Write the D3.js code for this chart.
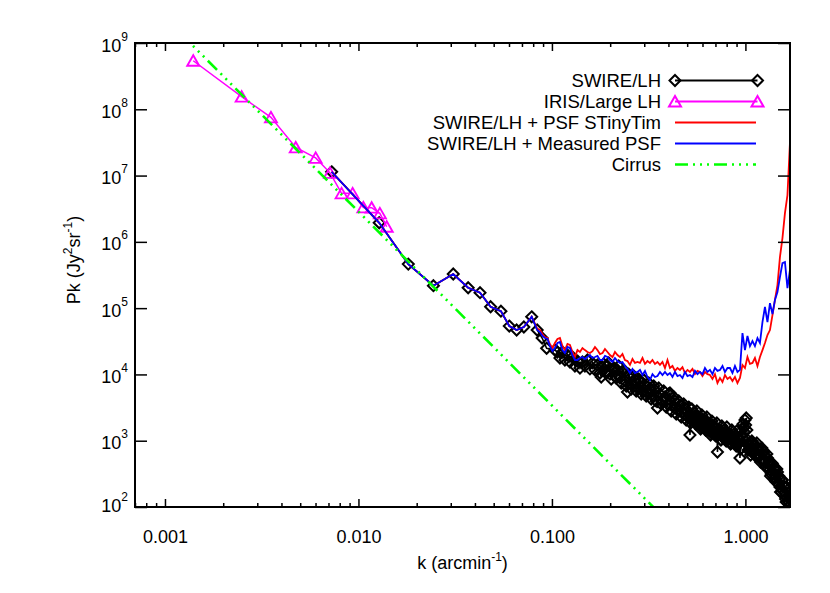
<!DOCTYPE html>
<html><head><meta charset="utf-8">
<script src="https://cdn.jsdelivr.net/npm/d3@7"></script>
<style>body{margin:0;background:#fff}</style>
</head><body><svg id="c" width="830" height="593"></svg>
<script>
// ---------------- data ----------------
// SWIRE/LH power spectrum (k in arcmin^-1, P in Jy^2/sr); dense part read in two passes, sorted by k when drawn
const swireK = [0.00727,0.0128,0.0181,0.0244,0.0309,0.0369,0.0425,0.0482,0.0545,0.0602,0.0657,0.0716,0.0786,0.0839,0.089,0.0939,0.1036,
0.1068,0.110,0.1133,0.1167,0.1203,0.1239,0.1277,0.1315,0.1355,0.1396,0.1438,0.1481,0.1526,0.1572,0.1620,0.1669,0.1719,0.1771,0.1825,0.1880,
0.1937,0.1995,0.2056,0.2117,0.2181,0.2247,0.2315,0.2385,0.2457,0.2531,0.2608,0.2686,0.2768,0.2851,0.2938,0.3026,0.3118,0.3211,0.3309,0.3408,
0.3511,0.3617,0.3727,0.3839,0.3955,0.4074,0.4198,0.4324,0.4455,0.4589,0.4728,0.4870,0.5018,
0.5169,0.5246,0.5326,0.5406,0.5486,0.5568,0.5652,0.5737,0.5822,0.5909,0.5998,0.6088,0.6179,0.6272,0.6366,0.6461,
0.6558,0.6656,0.6757,0.6858,0.6960,0.7064,0.7171,0.7278,0.7387,0.7498,0.7611,0.7725,0.7839,0.7957,0.8077,0.8198,
0.8320,0.8445,0.8572,0.8700,0.8830,0.8963,0.9097,0.9233,0.9371,0.9512,0.9655,0.9800,0.9946,1.0096,1.0247,1.0400,
1.0555,1.0714,1.0875,1.1038,1.1202,1.1370,1.1541,1.1714,1.1889,1.2067,1.2249,1.2432,1.2618,1.2807,1.3000,1.3195,
1.3391,1.3592,1.3797,1.4003,1.4212,1.4425,1.4642,1.4862,1.5083,1.5310,1.5540,1.5773,1.6008,1.6248,1.6493,1.6740,1.6989,
0.1798,0.1852,0.1908,0.1966,0.2025,0.2087,0.2149,0.2214,0.2281,0.2350,0.2421,0.2494,0.2569,0.2647,0.2726,0.2810,0.2894,0.2982,
0.3071,0.3165,0.3259,0.3359,0.3459,0.3564,0.3671,0.3783,0.3897,0.4014,0.4135,0.4261,0.4389,0.4522,0.4658,0.4799,0.4943,0.5093,
0.5208,0.5285,0.5366,0.5447,0.5527,0.5610,0.5694,0.5780,0.5866,0.5953,0.6043,0.6134,0.6225,0.6319,0.6414,0.6509,
0.6607,0.6706,0.6808,0.6909,0.7012,0.7117,0.7225,0.7333,0.7442,0.7554,0.7668,0.7783,0.7898,0.8017,0.8138,0.8259,
0.8382,0.8508,0.8636,0.8765,0.8896,0.9030,0.9165,0.9302,0.9441,0.9583,0.9727,0.9874,1.0021,1.0172,1.0324,1.0478,
1.0634,1.0794,1.0957,1.1121,1.1286,1.1455,1.1628,1.1802,1.1978,1.2157,1.2341,1.2525,1.2713,1.2903,1.3097,1.3294,
1.3491,1.3694,1.3900,1.4108,1.4319,1.4533,1.4752,1.4973,1.5196,1.5425,1.5657,1.5891,1.6128,1.6370,1.6617,1.6866];
const swireP = [1.14e7,1.94e6,4.62e5,2.18e5,3.27e5,2.03e5,1.71e5,1.05e5,9.0e4,5.37e4,4.68e4,5.2e4,7.4e4,4.68e4,3.54e4,2.48e4,2.33e4,
2.18e4,1.77e4,2.18e4,1.65e4,1.96e4,1.54e4,1.83e4,1.34e4,1.59e4,1.25e4,1.54e4,1.34e4,1.65e4,1.21e4,1.49e4,1.17e4,1.39e4,1.05e4,1.29e4,1.09e4,
1.34e4,1.01e4,1.21e4,9.46e3,1.17e4,8.83e3,1.09e4,7.95e3,5.43e3,8.83e3,6.92e3,8.23e3,6.24e3,7.68e3,5.62e3,6.92e3,5.24e3,6.24e3,4.72e3,5.82e3,
3.11e3,5.07e3,3.97e3,4.56e3,3.58e3,5.24e3,3.34e3,3.97e3,2.90e3,3.46e3,2.62e3,3.11e3,2.28e3,
1.22e3,2.13e3,2.53e3,2.28e3,1.98e3,1.79e3,2.36e3,2.05e3,1.79e3,1.61e3,2.13e3,1.92e3,1.61e3,1.45e3,1.92e3,1.73e3,
1.45e3,1.31e3,1.73e3,1.56e3,1.31e3,1.18e3,675,1.40e3,1.45e3,1.03e3,1.14e3,1.26e3,1.35e3,990,1.06e3,1.18e3,
1.26e3,924,990,1.10e3,1.18e3,832,892,1.03e3,548,776,1.10e3,1.56e3,2.05e3,2.20e3,1.03e3,892,
832,699,924,832,675,588,803,724,588,512,724,675,477,415,548,477,
361,315,445,388,274,238,337,293,200,168,255,207,147,119,180,84,107,
9.14e3,1.44e4,1.05e4,1.49e4,8.53e3,1.25e4,8.83e3,1.34e4,7.42e3,1.17e4,6.69e3,1.01e4,6.03e3,9.46e3,5.62e3,8.53e3,5.07e3,8.23e3,
4.72e3,7.42e3,4.26e3,6.69e3,3.97e3,6.24e3,3.58e3,5.62e3,3.22e3,5.07e3,2.81e3,4.56e3,2.53e3,3.97e3,2.28e3,3.58e3,2.05e3,3.22e3,
1.85e3,3.01e3,2.13e3,2.62e3,1.79e3,2.81e3,1.79e3,2.13e3,1.50e3,2.44e3,1.73e3,2.05e3,1.45e3,2.28e3,1.45e3,1.73e3,
1.22e3,1.98e3,1.40e3,1.67e3,1.18e3,1.85e3,1.22e3,1.45e3,1.03e3,1.67e3,1.22e3,1.45e3,1.03e3,1.61e3,1.06e3,1.26e3,
892,1.45e3,1.06e3,1.26e3,892,1.40e3,892,1.06e3,750,1.22e3,1.79e3,1.35e3,1.73e3,1.45e3,724,861,
608,990,699,832,588,924,588,699,477,776,530,608,401,630,388,445,
293,461,326,374,247,374,230,264,168,255,174,200,132,200,123,142];

const irisK = [0.0014,0.00249,0.00353,0.00474,0.00601,0.00713,0.00818,0.00933,0.0106,0.0117,0.0129,0.0140];
const irisP = [5.4e8,1.55e8,7.55e7,2.66e7,1.85e7,1.10e7,5.39e6,5.39e6,3.31e6,3.28e6,2.69e6,1.69e6];

const psfK = [0.00727,0.0128,0.0181,0.0244,0.0309,0.0369,0.0425,0.0482,0.0545,0.0602,0.0657,0.0716,0.0786,0.0839,
0.0867,0.0893,0.0920,0.0948,0.0976,0.1006,0.1036,0.1068,0.1100,0.1133,
0.1167,0.1203,0.1239,0.1277,0.1315,0.1355,0.1396,0.1438,0.1481,0.1526,0.1572,0.1620,0.1669,0.1719,0.1771,0.1825,0.1880,0.1937,0.1995,0.2056,
0.2117,0.2181,0.2247,0.2315,0.2385,0.2457,0.2531,0.2608,0.2686,0.2768,0.2851,0.2938,0.3026,0.3118,0.3211,0.3309,0.3408,0.3511,0.3617,0.3727,
0.3839,0.3955,0.4074,0.4198,0.4324,0.4455,0.4589,0.4728,0.4870,0.5018,
0.5169,0.5326,0.5486,0.5652,0.5822,0.5998,0.6179,0.6366,0.6558,0.6757,0.6960,0.7171,0.7387,0.7611,0.7839,0.8077,0.8320,0.8572,0.8830,0.9097,
0.9371,0.9655,0.9946,1.0247,1.0555,1.0875,1.1202,1.1541,1.1889,1.2249,1.2618,1.3000,1.3391,1.3797,1.4212,1.4642,1.5083,1.5540,1.6008,1.6493,1.6989];
const stinyTimP = [1.14e7,1.94e6,4.62e5,2.18e5,3.27e5,2.03e5,1.71e5,1.05e5,9.0e4,5.37e4,4.68e4,5.2e4,7.4e4,4.9e4,
4.67e4,4.07e4,3.67e4,3.54e4,2.88e4,2.50e4,2.98e4,3.42e4,3.54e4,2.68e4,
2.33e4,2.88e4,2.78e4,2.18e4,1.83e4,2.33e4,2.18e4,2.50e4,2.33e4,2.18e4,
2.10e4,2.25e4,2.59e4,2.33e4,2.03e4,2.10e4,2.42e4,2.18e4,1.96e4,1.83e4,
2.18e4,1.96e4,1.83e4,2.03e4,1.65e4,1.59e4,1.39e4,1.71e4,1.49e4,1.54e4,
1.49e4,1.77e4,1.44e4,1.59e4,1.49e4,1.65e4,1.44e4,1.54e4,1.39e4,1.54e4,
1.25e4,1.65e4,1.25e4,1.34e4,1.13e4,1.25e4,1.17e4,1.29e4,1.05e4,1.17e4,
1.09e4,1.21e4,1.01e4,1.13e4,1.09e4,9.46e3,1.09e4,1.01e4,9.80e3,8.53e3,
1.01e4,7.42e3,8.83e3,7.68e3,9.80e3,8.53e3,9.14e3,7.95e3,9.14e3,7.42e3,
8.83e3,1.39e4,1.25e4,1.83e4,1.44e4,1.49e4,1.77e4,1.34e4,1.83e4,2.33e4,
2.98e4,3.93e4,4.67e4,7.87e4,1.33e5,2.23e5,5.90e5,1.14e6,2.72e6,5.08e6,3.09e7];
const measuredP = [1.14e7,1.94e6,4.62e5,2.18e5,3.27e5,2.03e5,1.71e5,1.05e5,9.0e4,5.37e4,4.68e4,5.2e4,7.4e4,4.68e4,
4.36e4,3.80e4,3.54e4,3.42e4,2.68e4,2.25e4,2.50e4,2.98e4,3.08e4,2.33e4,
2.10e4,2.59e4,2.50e4,1.96e4,1.65e4,1.65e4,1.77e4,1.83e4,1.71e4,1.83e4,
1.96e4,1.77e4,1.83e4,1.90e4,1.65e4,1.65e4,1.90e4,1.83e4,1.65e4,1.54e4,
1.77e4,1.59e4,1.49e4,1.54e4,1.34e4,1.21e4,1.05e4,1.21e4,1.05e4,1.09e4,
1.17e4,9.80e3,1.13e4,9.14e3,8.23e3,1.01e4,9.14e3,9.46e3,1.09e4,9.80e3,
1.09e4,9.80e3,1.05e4,9.14e3,1.09e4,9.46e3,9.80e3,8.83e3,1.09e4,9.46e3,
9.80e3,9.14e3,1.13e4,1.01e4,1.09e4,1.01e4,1.25e4,1.09e4,1.17e4,1.01e4,
1.25e4,1.13e4,1.17e4,1.34e4,1.09e4,1.25e4,1.25e4,1.05e4,1.34e4,1.09e4,
1.17e4,4.21e4,2.33e4,3.80e4,2.68e4,3.19e4,2.68e4,3.54e4,2.98e4,6.17e4,
1.04e5,6.17e4,1.19e5,8.15e4,1.33e5,1.75e5,2.95e5,4.79e5,4.96e5,2.01e5,3.76e5];

const cirrusK = [0.0012,0.01,0.1,0.35];
const cirrusP = [1.41e9,2.86e6,3.40e3,87];

const xMajorTicks = [0.001,0.01,0.1,1];
const xTickLabels = ["0.001","0.010","0.100","1.000"];
const yTickValues = [1e2,1e3,1e4,1e5,1e6,1e7,1e8,1e9];
const yTickExps = ["2","3","4","5","6","7","8","9"];
const legendLabels = ["SWIRE/LH","IRIS/Large LH","SWIRE/LH + PSF STinyTim","SWIRE/LH + Measured PSF","Cirrus"];

// ---------------- layout ----------------
const FONT = '"Liberation Sans", Arial, Helvetica, sans-serif';
const L=135, R=790, T=43, B=507;
const svg = d3.select("#c");
svg.append("rect").attr("width",830).attr("height",593).attr("fill","#fff");
const x = d3.scaleLog().domain([0.0007,1.7]).range([L,R]);
const y = d3.scaleLog().domain([1e2,1e9]).range([B,T]);

svg.append("defs").append("clipPath").attr("id","clip")
  .append("rect").attr("x",L).attr("y",T).attr("width",R-L).attr("height",B-T);
const plot = svg.append("g").attr("clip-path","url(#clip)");
const zip = (ks,ps)=>ks.map((k,i)=>[k,ps[i]]);
const line = d3.line().x(d=>x(d[0])).y(d=>y(d[1]));
const DIA = "M0,-5.5L5.5,0L0,5.5L-5.5,0Z";
const TRI = "M-6,5L0,-5.5L6,5Z";
const DASH = "13,5,2,5,2,5,2,5";

// SWIRE/LH
const sw = d3.sort(zip(swireK,swireP), d=>d[0]);
plot.append("path").datum(sw).attr("d",line).attr("fill","none").attr("stroke","#000").attr("stroke-width",1.6);
plot.append("g").selectAll("path").data(sw).join("path").attr("d",DIA)
  .attr("transform",d=>`translate(${x(d[0])},${y(d[1])})`)
  .attr("fill","none").attr("stroke","#000").attr("stroke-width",2);
// IRIS
const ir = zip(irisK,irisP);
plot.append("path").datum(ir).attr("d",line).attr("fill","none").attr("stroke","#ff00ff").attr("stroke-width",1.5);
plot.append("g").selectAll("path").data(ir).join("path").attr("d",TRI)
  .attr("transform",d=>`translate(${x(d[0])},${y(d[1])})`)
  .attr("fill","none").attr("stroke","#ff00ff").attr("stroke-width",1.9);
// PSF lines
plot.append("path").datum(zip(psfK,stinyTimP)).attr("d",line).attr("fill","none").attr("stroke","#ff0000").attr("stroke-width",1.8);
plot.append("path").datum(zip(psfK,measuredP)).attr("d",line).attr("fill","none").attr("stroke","#0000ff").attr("stroke-width",1.8);
// Cirrus
plot.append("path").datum(zip(cirrusK,cirrusP)).attr("d",line).attr("fill","none").attr("stroke","#00ff00")
  .attr("stroke-width",2.6).attr("stroke-dasharray",DASH);

// ---------------- axes ----------------
function styleAxis(g){
  g.select(".domain").remove();
  g.selectAll(".tick line").attr("stroke","#000").attr("stroke-width",1.5);
  g.selectAll("text").attr("fill","#000").attr("font-size",18).attr("font-family",FONT);
}
const minorX = x.ticks().filter(t=>!xMajorTicks.some(m=>Math.abs(m-t)/m<1e-6));
svg.append("g").attr("transform",`translate(0,${B})`)
  .call(d3.axisBottom(x).tickValues(xMajorTicks).tickSize(-8).tickSizeOuter(0).tickPadding(23).tickFormat((d,i)=>xTickLabels[i]))
  .call(styleAxis);
svg.append("g").attr("transform",`translate(0,${B})`)
  .call(d3.axisBottom(x).tickValues(minorX).tickSize(-4).tickSizeOuter(0).tickFormat(""))
  .call(styleAxis);
svg.append("g").attr("transform",`translate(0,${T})`)
  .call(d3.axisTop(x).tickValues(xMajorTicks).tickSize(-8).tickSizeOuter(0).tickFormat(""))
  .call(styleAxis);
svg.append("g").attr("transform",`translate(0,${T})`)
  .call(d3.axisTop(x).tickValues(minorX).tickSize(-4).tickSizeOuter(0).tickFormat(""))
  .call(styleAxis);
const gy = svg.append("g").attr("transform",`translate(${L},0)`)
  .call(d3.axisLeft(y).tickValues(yTickValues).tickSize(-12).tickSizeOuter(0).tickFormat(""))
  .call(styleAxis);
gy.selectAll(".tick text").remove();
gy.selectAll(".tick").each(function(d,i){
  const t = d3.select(this).append("text").attr("x",-7).attr("y",i===0?4:8).attr("text-anchor","end")
    .attr("font-family",FONT).attr("font-size",18).attr("fill","#000");
  t.append("tspan").text("10");
  t.append("tspan").attr("font-size",12).attr("dy",-11).text(yTickExps[i]);
});
svg.append("g").attr("transform",`translate(${R},0)`)
  .call(d3.axisRight(y).tickValues(yTickValues).tickSize(-12).tickSizeOuter(0).tickFormat(""))
  .call(styleAxis);
svg.append("rect").attr("x",L).attr("y",T).attr("width",R-L).attr("height",B-T)
  .attr("fill","none").attr("stroke","#000").attr("stroke-width",2);

// titles
const xt = svg.append("text").attr("x",(L+R)/2).attr("y",569).attr("text-anchor","middle")
  .attr("font-family",FONT).attr("font-size",18).attr("fill","#000");
xt.append("tspan").text("k (arcmin");
xt.append("tspan").attr("font-size",12).attr("dy",-8).text("-1");
xt.append("tspan").attr("dy",8).text(")");
const yt = svg.append("text").attr("transform","translate(80,260) rotate(-90)").attr("text-anchor","middle")
  .attr("font-family",FONT).attr("font-size",18).attr("fill","#000");
yt.append("tspan").text("Pk (Jy");
yt.append("tspan").attr("font-size",12).attr("dy",-8).text("2");
yt.append("tspan").attr("dy",8).text("sr");
yt.append("tspan").attr("font-size",12).attr("dy",-8).text("-1");
yt.append("tspan").attr("dy",8).text(")");

// ---------------- legend ----------------
const lg = svg.append("g");
const styles = [
  {stroke:"#000", sym:DIA},
  {stroke:"#ff00ff", sym:TRI},
  {stroke:"#ff0000"},
  {stroke:"#0000ff"},
  {stroke:"#00ff00", dash:DASH, w:2.6}
];
legendLabels.forEach((lab,i)=>{
  const cy = 80.5 + i*21;
  lg.append("text").attr("x",661).attr("y",cy+6.5).attr("text-anchor","end")
    .attr("font-family",FONT).attr("font-size",18.5).attr("fill","#000").text(lab);
  const s = styles[i];
  const x1 = 675, x2 = s.sym ? 757.5 : 756;
  lg.append("line").attr("x1",x1).attr("x2",x2).attr("y1",cy).attr("y2",cy)
    .attr("stroke",s.stroke).attr("stroke-width",s.w||1.8).attr("stroke-dasharray",s.dash||null);
  if(s.sym){
    [x1,x2].forEach(px=>lg.append("path").attr("d",s.sym).attr("transform",`translate(${px},${cy})`)
      .attr("fill","none").attr("stroke",s.stroke).attr("stroke-width",2));
  }
});
</script></body></html>
